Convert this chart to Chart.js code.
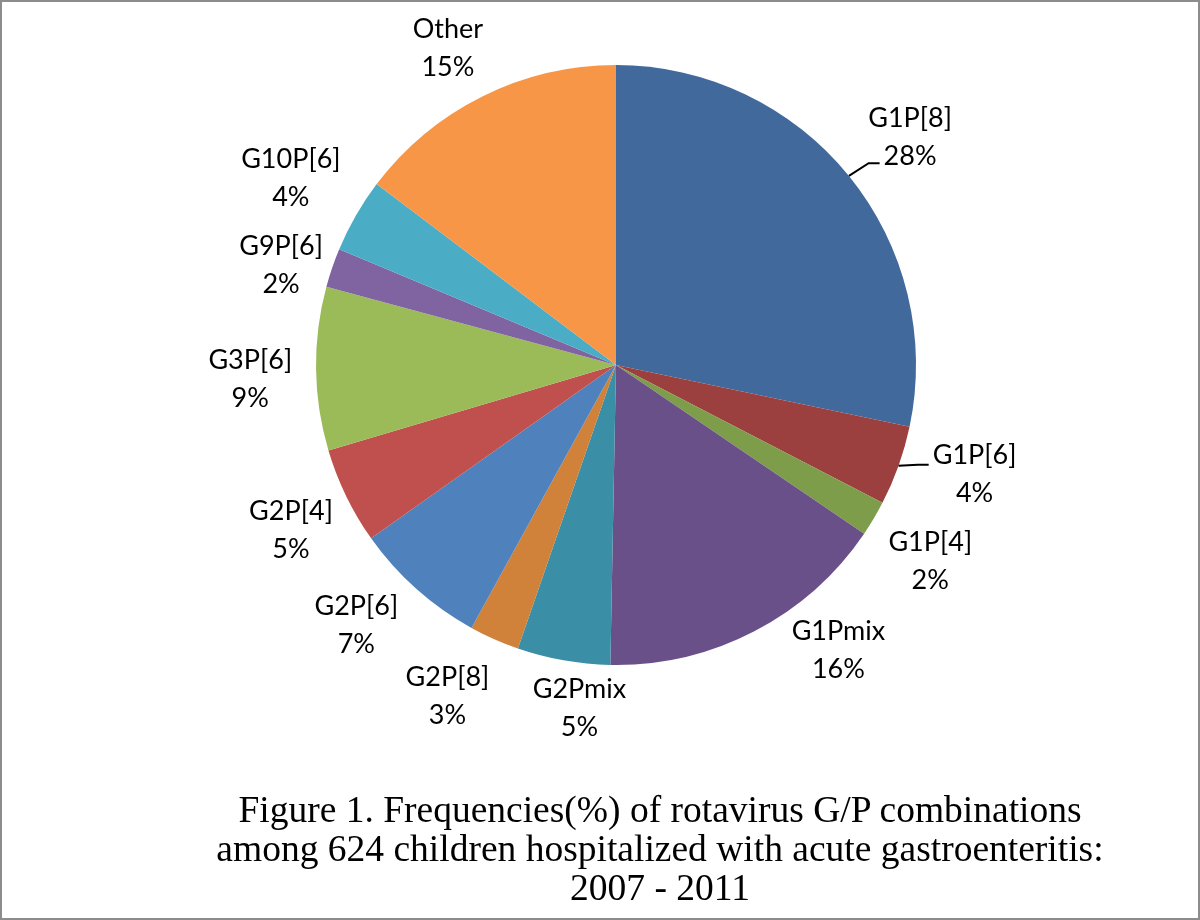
<!DOCTYPE html>
<html>
<head>
<meta charset="utf-8">
<script src="https://cdn.jsdelivr.net/npm/chart.js@4/dist/chart.umd.min.js"></script>
<style>
    html, body { margin: 0; padding: 0; background: #fff; }
    .frame {
        position: relative;
        width: 1200px;
        height: 920px;
        box-sizing: border-box;
        border: 2px solid #8c8c8c;
        background: #fff;
        overflow: hidden;
    }
    #pieChart { position: absolute; left: -2px; top: -2px; }
    .caption {
        position: absolute;
        left: 0;
        width: 1316px;
        top: 788px;
        text-align: center;
        font-family: "Liberation Serif", "Times New Roman", serif;
        font-size: 37.5px;
        line-height: 39px;
        color: #000;
    }
</style>
</head>
<body>
<div class="frame">
    <canvas id="pieChart" width="1200" height="920"></canvas>
    <div class="caption">
        Figure 1. Frequencies(%) of rotavirus G/P combinations<br>
        among 624 children hospitalized with acute gastroenteritis:<br>
        2007 - 2011
    </div>
</div>

<script>
/* ========================================
   Rotavirus G/P combinations - pie chart
   ======================================== */

// Chart data
const categories = ['G1P[8]', 'G1P[6]', 'G1P[4]', 'G1Pmix', 'G2Pmix', 'G2P[8]',
                    'G2P[6]', 'G2P[4]', 'G3P[6]', 'G9P[6]', 'G10P[6]', 'Other'];
const shares = [28.3, 4.3, 1.9, 15.8, 5.0, 2.7, 7.2, 5.2, 8.8, 2.1, 4.0, 14.7];

const sliceColors = [
    '#41699c', '#9b403e', '#7e9d4a', '#6a5089', '#3a8ea6', '#d0813a',
    '#4f81bd', '#c0504d', '#9bbb59', '#8064a2', '#4bacc6', '#f79646'
];

// Label placement: [angle shift in degrees from slice middle, distance / radius]
const labelPlacement = [
    [1.3, 1.24], [-2.6, 1.25], [1.2, 1.235], [-10.6, 1.205],
    [-4, 1.15], [3, 1.24], [3.2, 1.225], [-1, 1.215],
    [-1.5, 1.22], [-2.3, 1.165], [0, 1.25], [-1.5, 1.195]
];

// Slices that get a leader line from the pie edge to the label
const leaderSlices = [0, 1];

// Outside labels, drawn from each arc's own geometry
const outsideLabels = {
    id: 'outsideLabels',
    afterDatasetsDraw(chart) {
        const ctx = chart.ctx;
        const meta = chart.getDatasetMeta(0);
        const total = shares.reduce((a, b) => a + b, 0);

        ctx.save();
        ctx.font = '27px Lato, "Open Sans", sans-serif';
        ctx.fillStyle = '#000';
        ctx.textAlign = 'center';
        ctx.textBaseline = 'middle';

        meta.data.forEach((arc, i) => {
            const p = arc.getProps(['x', 'y', 'startAngle', 'endAngle', 'outerRadius'], true);
            const mid = (p.startAngle + p.endAngle) / 2;
            const a = mid + labelPlacement[i][0] * Math.PI / 180;
            const d = p.outerRadius * labelPlacement[i][1];
            const cx = p.x + Math.cos(a) * d;
            const cy = p.y + Math.sin(a) * d;

            const pct = Math.round(shares[i] / total * 100) + '%';
            ctx.fillText(categories[i], cx, cy - 19);
            ctx.fillText(pct, cx, cy + 19);

            if (leaderSlices.includes(i)) {
                const ex = p.x + Math.cos(mid) * p.outerRadius;
                const ey = p.y + Math.sin(mid) * p.outerRadius;
                const textW = ctx.measureText(i === 0 ? pct : categories[i]).width;
                const ty = i === 0 ? cy + 26 : cy - 10;
                const tx = cx - textW / 2 - 4;
                ctx.beginPath();
                ctx.strokeStyle = '#000';
                ctx.lineWidth = 2;
                ctx.moveTo(ex, ey);
                ctx.lineTo(tx - 11, ty);
                ctx.lineTo(tx, ty);
                ctx.stroke();
            }
        });
        ctx.restore();
    }
};

function initPieChart() {
    const ctx = document.getElementById('pieChart');
    if (!ctx) return;

    new Chart(ctx, {
        type: 'pie',
        data: {
            labels: categories,
            datasets: [{
                data: shares,
                backgroundColor: sliceColors,
                borderWidth: 0
            }]
        },
        options: {
            responsive: false,
            animation: false,
            layout: {
                padding: { left: 316, right: 284, top: 65, bottom: 255 }
            },
            plugins: {
                legend: { display: false },
                tooltip: { enabled: false }
            }
        },
        plugins: [outsideLabels]
    });
}

initPieChart();
</script>
</body>
</html>
